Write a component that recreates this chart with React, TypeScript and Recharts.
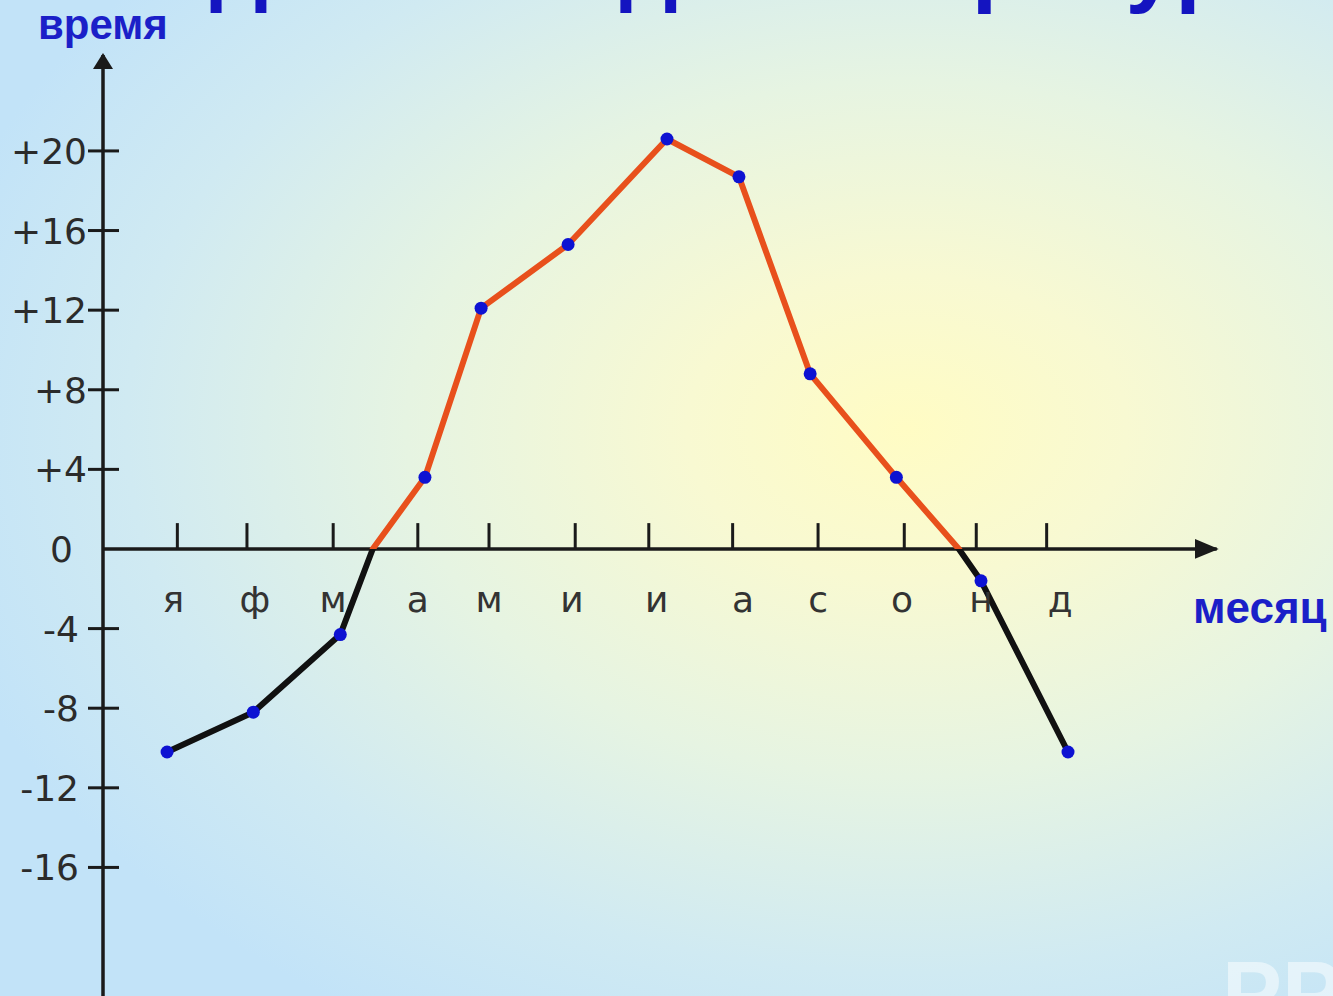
import React from 'react';
import { LineChart, Line, XAxis, YAxis, ReferenceLine, ReferenceDot } from 'recharts';

// месяцы, засечки и подписи на оси X (в "месячных" единицах шкалы)
const months = ['я', 'ф', 'м', 'а', 'м', 'и', 'и', 'а', 'с', 'о', 'н', 'д'];
const monthTickX = [0.94, 1.82, 2.91, 3.98, 4.88, 5.97, 6.9, 7.96, 9.04, 10.13, 11.04, 11.93];
const monthLabelX = [0.89, 1.92, 2.91, 3.98, 4.88, 5.93, 7.0, 8.09, 9.04, 10.1, 11.1, 12.1];

// точки графика температуры
const pointX = [0.81, 1.9, 3.0, 4.07, 4.78, 5.88, 7.13, 8.04, 8.94, 10.03, 11.1, 12.2];
const temps = [-10.2, -8.2, -4.3, 3.6, 12.1, 15.3, 20.6, 18.7, 8.8, 3.6, -1.6, -10.2];
// где линия пересекает ноль
const zeroCrossX = [3.41, 10.82];

const yTicks = [20, 16, 12, 8, 4, 0, -4, -8, -12, -16];
const xDomain: [number, number] = [0, 15.55];
const yDomain: [number, number] = [-22.46, 24.82];
const xAxisEnd = 14.08;

const W = 1333;
const H = 996;
const AXIS = '#1a1a1a';

const pathData = [
  ...pointX.map((x, i) => ({ x, t: temps[i], dot: true })),
  ...zeroCrossX.map((x) => ({ x, t: 0, dot: false })),
].sort((a, b) => a.x - b.x);

const tMax = Math.max(...temps);
const tMin = Math.min(...temps);
const zeroOffset = tMax / (tMax - tMin);

const YTick = (props: any) => {
  const { x, y, payload } = props;
  const v = payload.value;
  const label = v > 0 ? `+${v}` : `${v}`;
  const textEnd = v === 0 ? x - 30 : v < 0 ? x - 24 : x - 16;
  return (
    <g>
      {v !== 0 && <line x1={x - 15} x2={x + 16} y1={y} y2={y} stroke={AXIS} strokeWidth={3} />}
      <text
        x={textEnd}
        y={y}
        dy="0.36em"
        textAnchor="end"
        fontFamily="DejaVu Sans"
        fontSize={36}
        fill="#2b2b2b"
      >
        {label}
      </text>
    </g>
  );
};

export default function App() {
  return (
    <div
      style={{
        position: 'absolute',
        left: 0,
        top: 0,
        width: W,
        height: H,
        overflow: 'hidden',
        background:
          'radial-gradient(ellipse 75% 70% at 68% 43%, #fffcc4 0%, #f8f9d2 22%, #e6f4e2 50%, #d0eaf2 78%, #c2e3f8 100%)',
      }}
    >
      <LineChart width={W} height={H} data={pathData} margin={{ top: 55, right: 0, bottom: 0, left: 0 }}>
        <defs>
          <linearGradient id="tempStroke" x1="0" y1="0" x2="0" y2="1">
            <stop offset={0} stopColor="#e8501c" />
            <stop offset={zeroOffset} stopColor="#e8501c" />
            <stop offset={zeroOffset} stopColor="#111111" />
            <stop offset={1} stopColor="#111111" />
          </linearGradient>
          <marker id="arrowX" markerWidth={24} markerHeight={20} refX={22} refY={10} orient="auto" markerUnits="userSpaceOnUse">
            <path d="M0,0 L24,10 L0,20 z" fill={AXIS} />
          </marker>
          <marker id="arrowY" markerWidth={16} markerHeight={20} refX={14} refY={10} orient="auto" markerUnits="userSpaceOnUse">
            <path d="M0,0 L16,10 L0,20 z" fill={AXIS} />
          </marker>
        </defs>
        <XAxis type="number" dataKey="x" domain={xDomain} hide allowDataOverflow />
        <YAxis
          type="number"
          dataKey="t"
          domain={yDomain}
          ticks={yTicks}
          width={103}
          axisLine={false}
          tickLine={false}
          tickSize={0}
          tickMargin={0}
          allowDataOverflow
          interval={0}
          tick={<YTick />}
        />
        {/* ось Y */}
        <ReferenceLine
          segment={[{ x: 0, y: yDomain[0] }, { x: 0, y: yDomain[1] }]}
          stroke={AXIS}
          strokeWidth={3.5}
          markerEnd="url(#arrowY)"
        />
        {/* ось X */}
        <ReferenceLine
          segment={[{ x: 0, y: 0 }, { x: xAxisEnd, y: 0 }]}
          stroke={AXIS}
          strokeWidth={3.5}
          markerEnd="url(#arrowX)"
        />
        {monthTickX.map((t, i) => (
          <ReferenceLine
            key={`tick-${i}`}
            segment={[{ x: t, y: 0 }, { x: t, y: 1.3 }]}
            stroke={AXIS}
            strokeWidth={3}
          />
        ))}
        {monthLabelX.map((t, i) => (
          <ReferenceDot
            key={`lbl-${i}`}
            x={t}
            y={0}
            r={0}
            shape={(p: any) => (
              <text
                x={p.cx}
                y={p.cy + 63}
                textAnchor="middle"
                fontFamily="DejaVu Sans"
                fontSize={36}
                fill="#333333"
              >
                {months[i]}
              </text>
            )}
          />
        ))}
        <Line
          type="linear"
          dataKey="t"
          stroke="url(#tempStroke)"
          strokeWidth={6}
          strokeLinejoin="round"
          isAnimationActive={false}
          dot={(p: any) =>
            p.payload.dot ? (
              <circle key={`d-${p.index}`} cx={p.cx} cy={p.cy} r={6.5} fill="#0d12d2" />
            ) : (
              <g key={`d-${p.index}`} />
            )
          }
          activeDot={false}
        />
      </LineChart>
      <svg
        width={W}
        height={H}
        style={{ position: 'absolute', left: 0, top: 0, pointerEvents: 'none' }}
      >
        <text x={108} y={-5} fontFamily="Liberation Sans" fontWeight="bold" fontSize={91.5} fill="#1414c0">
          Годовой ход температуры
        </text>
        <text x={38} y={39} fontFamily="Liberation Sans" fontWeight="bold" fontSize={42} fill="#1b1fc8">
          время
        </text>
        <text x={1193} y={623} fontFamily="Liberation Sans" fontWeight="bold" fontSize={44} fill="#1b1fc8">
          месяц
        </text>
        <text x={1222} y={1025} fontFamily="Liberation Sans" fontWeight="bold" fontSize={90} fill="#ffffff" fillOpacity={0.5}>
          PP
        </text>
      </svg>
    </div>
  );
}
